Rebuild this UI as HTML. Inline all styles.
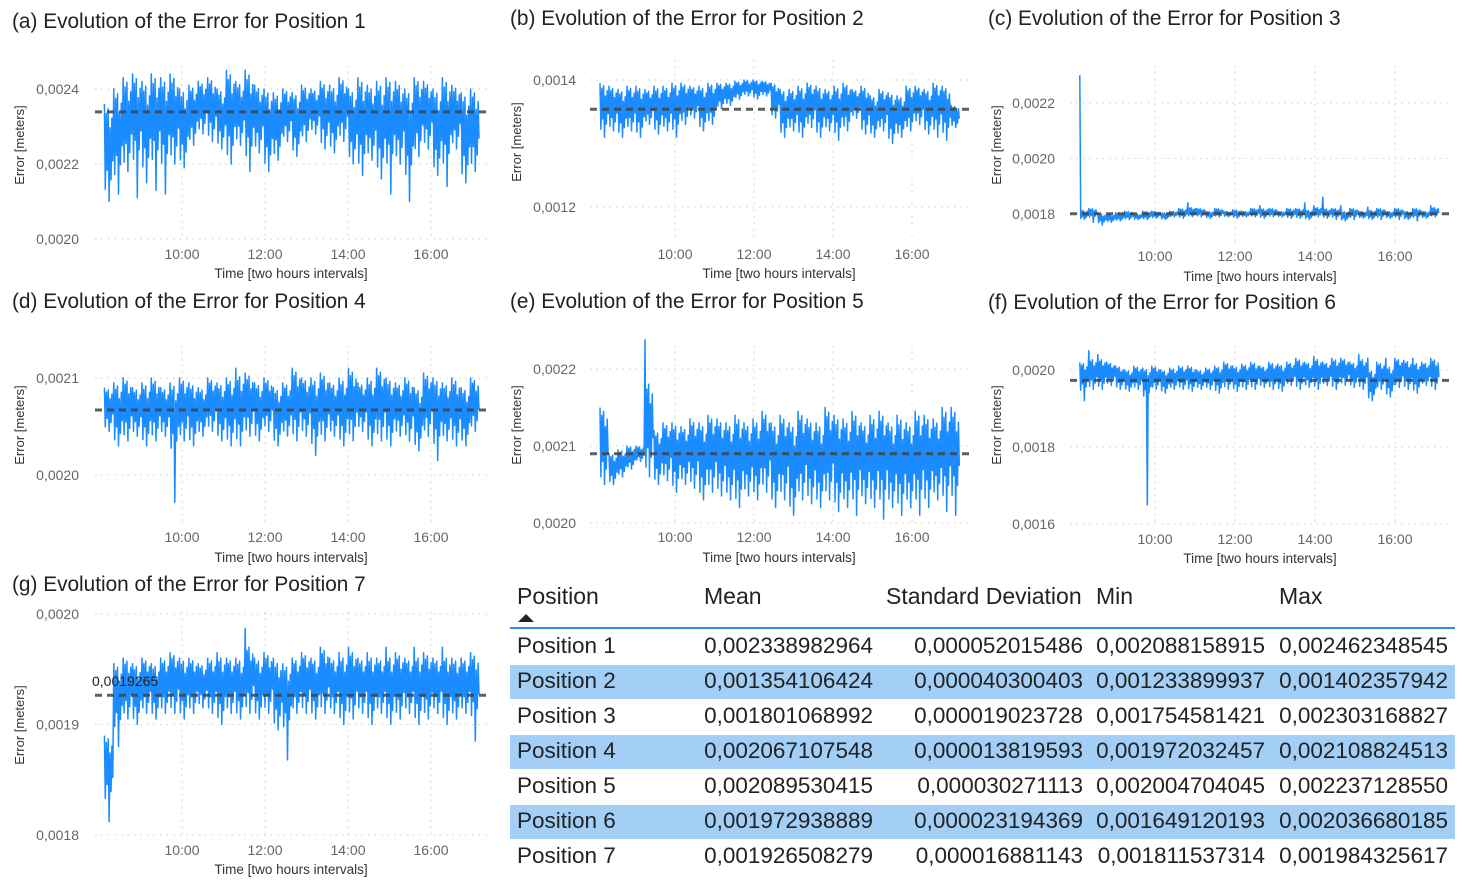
<!DOCTYPE html>
<html><head><meta charset="utf-8">
<style>
body{margin:0;width:1465px;height:892px;background:#fff;overflow:hidden;font-family:"Liberation Sans",sans-serif;position:relative}
.t{position:absolute;white-space:nowrap}
.title{font-size:20.8px;color:#222}
.cell{position:absolute;font-size:22.5px;color:#222;white-space:nowrap}
.hcell{font-size:23px}
</style></head><body>
<svg id="charts" width="1465" height="892" style="position:absolute;left:0;top:0"></svg>

<div class="t title" style="left:12px;top:10px">(a) Evolution of the Error for Position 1</div>
<div class="t title" style="left:510px;top:7px">(b) Evolution of the Error for Position 2</div>
<div class="t title" style="left:988px;top:7px">(c) Evolution of the Error for Position 3</div>
<div class="t title" style="left:12px;top:290px">(d) Evolution of the Error for Position 4</div>
<div class="t title" style="left:510px;top:290px">(e) Evolution of the Error for Position 5</div>
<div class="t title" style="left:988px;top:291px">(f) Evolution of the Error for Position 6</div>
<div class="t title" style="left:12px;top:573px">(g) Evolution of the Error for Position 7</div>

<div style="position:absolute;left:510px;top:580px;width:945px;height:312px">
  <div style="position:absolute;left:0;top:85px;width:945px;height:34px;background:#a3cff7"></div>
  <div style="position:absolute;left:0;top:155px;width:945px;height:34px;background:#a3cff7"></div>
  <div style="position:absolute;left:0;top:225px;width:945px;height:34px;background:#a3cff7"></div>
  <div style="position:absolute;left:0;top:47px;width:945px;height:2px;background:#2a8cf0"></div>
  <div style="position:absolute;left:8px;top:34px;width:0;height:0;border-left:8px solid transparent;border-right:8px solid transparent;border-bottom:8px solid #222"></div>
</div>
<div id="tbl"></div>

<script>
const NS="http://www.w3.org/2000/svg";
const svg=document.getElementById('charts');
function mk(tag,attrs,parent){const e=document.createElementNS(NS,tag);for(const k in attrs)e.setAttribute(k,attrs[k]);(parent||svg).appendChild(e);return e;}

// ---- data (units: 1e-4 meters) ----
const timeTicks=[10,12,14,16];
const timeTickLabels=['10:00','12:00','14:00','16:00'];
const hiA=[23.6,24.0,24.3,24.4,24.2,24.4,24.3,24.4,24.0,24.1,24.2,24.3,24.0,24.5,24.2,24.5,24.1,24.0,23.9,24.0,23.9,24.1,24.0,24.2,24.1,24.3,24.0,24.3,24.1,24.2,24.3,24.2,24.0,24.3,24.2,24.0,24.3,24.1,23.9,24.0];
const loA=[21.0,21.2,21.8,21.1,21.5,21.3,21.2,22.0,21.9,22.5,22.8,22.6,22.4,22.0,22.5,21.8,22.3,21.8,22.1,22.6,22.2,22.6,22.8,22.4,22.3,22.6,22.0,21.7,22.1,21.6,21.2,22.0,21.0,22.2,22.4,21.7,21.4,22.4,21.5,21.8];
const hiB=[13.95,13.9,13.85,13.9,13.9,13.85,13.9,13.9,13.95,13.95,13.9,13.9,13.95,13.95,13.95,13.98,14.0,14.0,13.98,13.95,13.85,13.85,13.9,13.95,13.9,13.85,13.9,13.95,13.85,13.9,13.75,13.85,13.8,13.75,13.9,13.9,13.85,13.95,13.9,13.6];
const loB=[13.1,13.2,13.1,13.2,13.1,13.3,13.15,13.2,13.1,13.3,13.4,13.2,13.3,13.55,13.6,13.7,13.75,13.7,13.75,13.4,13.1,13.2,13.1,13.25,13.1,13.2,13.05,13.2,13.4,13.15,13.1,13.2,13.0,13.1,13.2,13.3,13.15,13.1,13.05,13.25];
const hiC=[23.0,18.2,18.0,18.0,18.05,18.1,18.0,18.1,18.1,18.05,18.1,18.2,18.4,18.2,18.1,18.2,18.1,18.15,18.1,18.2,18.3,18.2,18.1,18.2,18.2,18.4,18.3,18.6,18.2,18.3,18.2,18.1,18.25,18.2,18.1,18.2,18.1,18.2,18.1,18.3];
const loC=[17.8,17.7,17.6,17.7,17.75,17.8,17.8,17.8,17.85,17.8,17.9,17.85,17.9,17.9,17.85,17.9,17.9,17.85,17.9,17.9,17.85,17.9,17.9,17.85,17.85,17.8,17.9,17.85,17.8,17.75,17.8,17.85,17.8,17.8,17.85,17.8,17.8,17.75,17.85,17.9];
const hiD=[20.9,20.95,21.0,20.9,20.95,21.0,20.9,20.95,21.0,20.95,20.9,21.0,20.95,21.0,21.1,21.05,20.95,21.0,20.9,20.95,21.1,21.0,21.0,21.05,20.95,21.0,21.1,20.95,21.0,21.1,21.0,20.95,21.0,20.9,21.05,21.0,20.95,21.0,20.9,21.0];
const loD=[20.45,20.3,20.35,20.4,20.3,20.35,20.4,19.72,20.35,20.3,20.4,20.45,20.35,20.3,20.3,20.4,20.35,20.45,20.3,20.4,20.35,20.4,20.2,20.35,20.4,20.3,20.35,20.45,20.3,20.35,20.3,20.4,20.35,20.25,20.4,20.15,20.35,20.3,20.3,20.45];
const hiE=[21.5,20.9,20.95,21.0,21.0,22.38,21.2,21.3,21.3,21.25,21.35,21.3,21.4,21.35,21.3,21.4,21.3,21.35,21.45,21.3,21.4,21.3,21.45,21.35,21.3,21.5,21.4,21.35,21.45,21.3,21.4,21.45,21.3,21.4,21.3,21.45,21.4,21.35,21.5,21.5];
const loE=[20.5,20.5,20.6,20.7,20.8,20.6,20.5,20.55,20.4,20.5,20.45,20.3,20.4,20.35,20.3,20.2,20.35,20.3,20.4,20.2,20.3,20.1,20.3,20.25,20.2,20.3,20.15,20.2,20.1,20.25,20.2,20.05,20.2,20.1,20.2,20.1,20.2,20.3,20.15,20.1];
const hiF=[20.2,20.5,20.4,20.2,20.1,20.0,20.1,20.05,20.1,20.0,20.05,20.1,20.1,20.0,20.05,20.1,20.2,20.1,20.15,20.2,20.1,20.2,20.15,20.2,20.3,20.2,20.35,20.2,20.3,20.3,20.2,20.4,20.3,20.2,20.3,20.3,20.25,20.3,20.2,20.3];
const loF=[19.2,19.5,19.5,19.6,19.5,19.45,19.5,16.5,19.5,19.4,19.5,19.5,19.45,19.5,19.5,19.4,19.5,19.45,19.5,19.5,19.55,19.5,19.45,19.6,19.5,19.55,19.5,19.6,19.5,19.6,19.55,19.5,19.2,19.5,19.3,19.55,19.5,19.4,19.6,19.5];
const hiG=[18.9,19.55,19.6,19.55,19.6,19.55,19.6,19.65,19.6,19.6,19.55,19.6,19.65,19.6,19.6,19.87,19.6,19.65,19.6,19.55,19.6,19.65,19.6,19.7,19.6,19.65,19.7,19.6,19.65,19.6,19.7,19.65,19.6,19.7,19.65,19.6,19.7,19.6,19.6,19.65];
const loG=[18.12,18.8,19.05,19.0,19.1,19.05,19.1,19.1,19.05,19.1,19.15,19.1,19.0,19.1,19.05,19.1,19.05,19.1,18.95,18.68,19.1,19.1,19.05,19.1,19.1,19.0,19.05,19.1,19.0,19.1,19.0,19.05,19.1,19.0,19.05,19.1,19.0,19.05,19.1,18.85];
const meanValues=[23.39,13.54,18.01,20.67,20.90,19.73,19.265];
const yTicksA=[20,22,24], yTicksB=[12,14], yTicksC=[18,20,22], yTicksD=[20,21], yTicksE=[20,21,22], yTicksF=[16,18,20], yTicksG=[18,19,20];

// layout configs (pixels only)
const L1={x10:182,pph:41.5,t0:8.13,t1:17.18,left:95,right:490,lblR:79,xlc:291,ylx:20};
const L2={x10:675,pph:39.5,t0:8.1,t1:17.22,left:590,right:970,lblR:576,xlc:779,ylx:517};
const L3={x10:1155,pph:40,t0:8.12,t1:17.12,left:1070,right:1450,lblR:1055,xlc:1260,ylx:997};
const charts=[
 {id:'a',L:L1,hi:hiA,lo:loA,ticks:yTicksA,r:[20,239,24,89],top:65,bot:240,xty:254,xly:274,ylc:145},
 {id:'b',L:L2,hi:hiB,lo:loB,ticks:yTicksB,r:[12,207,14,80],top:60,bot:240,xty:254,xly:274,ylc:142},
 {id:'c',L:L3,hi:hiC,lo:loC,ticks:yTicksC,r:[18,214,22,103],top:65,bot:242,xty:256,xly:277,ylc:145},
 {id:'d',L:L1,hi:hiD,lo:loD,ticks:yTicksD,r:[20,475,21,378],top:345,bot:522,xty:537,xly:558,ylc:425},
 {id:'e',L:L2,hi:hiE,lo:loE,ticks:yTicksE,r:[20,523,22,369],top:345,bot:524,xty:537,xly:558,ylc:425},
 {id:'f',L:L3,hi:hiF,lo:loF,ticks:yTicksF,r:[16,524,20,370],top:345,bot:526,xty:539,xly:559,ylc:425},
 {id:'g',L:L1,hi:hiG,lo:loG,ticks:yTicksG,r:[18,835,20,614],top:612,bot:836,xty:850,xly:870,ylc:725}
];
function tickLabel(v){return '0,00'+String(Math.round(v)).padStart(2,'0');}
// rendering pattern of spikes within each bin (fraction between lo and hi)
const spike=[1,0.1,0.9,0.3,0.95,0,0.75,0.2,0.85,0.4];

charts.forEach((c,ci)=>{
 const L=c.L;
 const xOf=t=>L.x10+(t-10)*L.pph;
 const yOf=v=>c.r[1]+(v-c.r[0])*(c.r[3]-c.r[1])/(c.r[2]-c.r[0]);
 const g=mk('g',{});
 
 
 c.ticks.forEach(v=>{
  const ln=mk('line',{x1:L.left,x2:L.right,y1:yOf(v),y2:yOf(v),stroke:'#ccc','stroke-dasharray':'1.5 5'},g);
  
  
  const tx=mk('text',{x:L.lblR,y:yOf(v)+5,'text-anchor':'end','font-size':14,fill:'#666','font-family':'Liberation Sans'},g);
  tx.textContent=tickLabel(v);
  
  
 });
 timeTicks.forEach((t,i)=>{
  const ln=mk('line',{x1:xOf(t),x2:xOf(t),y1:c.top,y2:c.bot,stroke:'#ccc','stroke-dasharray':'1.5 5'},g);
  
  
  const tx=mk('text',{x:xOf(t),y:c.xty+5,'text-anchor':'middle','font-size':14,fill:'#666','font-family':'Liberation Sans'},g);
  tx.textContent=timeTickLabels[i];
  
  
 });
 const xl=mk('text',{x:L.xlc,y:c.xly+4,'text-anchor':'middle','font-size':13.5,fill:'#333','font-family':'Liberation Sans'},g);
 xl.textContent='Time [two hours intervals]';
 
 
 const yl=mk('text',{x:0,y:0,'text-anchor':'middle','font-size':13,fill:'#333','font-family':'Liberation Sans',transform:`translate(${L.ylx+4},${c.ylc}) rotate(-90)`},g);
 yl.textContent='Error [meters]';
 
 
 // series: dense spikes within each bin's hi/lo envelope
 const n=c.hi.length, pts=[], m=spike.length;
 const spans=c.hi.map((h,i)=>h-c.lo[i]).sort((a,b)=>a-b);
 const med=spans[Math.floor(n/2)];
 for(let i=0;i<n;i++){
  const span=Math.min(c.hi[i]-c.lo[i],1.15*med);
  const base=(c.hi[i]-c.lo[i]>1.15*med)? ( (c.hi[i]-meanValues[ci]) > (meanValues[ci]-c.lo[i]) ? c.lo[i] : c.hi[i]-span ) : c.lo[i];
  for(let k=0;k<m;k++){
   const t=L.t0+(L.t1-L.t0)*(i+k/m)/n;
   let v;
   if(k===0) v=c.hi[i];
   else if(k===5) v=c.lo[i];
   else v=base+spike[k]*span;
   pts.push(xOf(t).toFixed(1)+','+yOf(v).toFixed(1));
  }
 }
 const pl=mk('polyline',{points:pts.join(' '),fill:'none',stroke:'#1a8cff','stroke-width':1.5,'stroke-linejoin':'round'},g);
 
 
 const my=yOf(meanValues[ci]);
 const ml=mk('line',{x1:L.left,x2:L.right,y1:my,y2:my,stroke:'#444','stroke-width':3,'stroke-dasharray':'7 5',opacity:0.85},g);
 
 
 if(c.id==='g'){
  const lab=mk('text',{x:92,y:my-9,'font-size':14,fill:'#222','font-family':'Liberation Sans'},g);
  lab.textContent='0,0019265';
  
  
 }
});

// table
const tblHeaders=['Position','Mean','Standard Deviation','Min','Max'];
const tblRows=[
 ['Position 1','0,002338982964','0,000052015486','0,002088158915','0,002462348545'],
 ['Position 2','0,001354106424','0,000040300403','0,001233899937','0,001402357942'],
 ['Position 3','0,001801068992','0,000019023728','0,001754581421','0,002303168827'],
 ['Position 4','0,002067107548','0,000013819593','0,001972032457','0,002108824513'],
 ['Position 5','0,002089530415','0,000030271113','0,002004704045','0,002237128550'],
 ['Position 6','0,001972938889','0,000023194369','0,001649120193','0,002036680185'],
 ['Position 7','0,001926508279','0,000016881143','0,001811537314','0,001984325617']];
const tbl=document.getElementById('tbl');
const hx=[517,704,886,1096,1279];
const rEnd=[null,873,1083,1265,1448];
tblHeaders.forEach((h,i)=>{
 const d=document.createElement('div');d.className='cell hcell';d.textContent=h;
 d.style.left=hx[i]+'px';d.style.top='583px';
 
 
 tbl.appendChild(d);
});
tblRows.forEach((r,ri)=>{
 r.forEach((v,i)=>{
  const d=document.createElement('div');d.className='cell';d.textContent=v;
  d.style.top=(633+ri*35)+'px';
  if(i===0)d.style.left=hx[0]+'px';else d.style.right=(1465-rEnd[i])+'px';
  
  
  tbl.appendChild(d);
 });
});
</script>
</body></html>
